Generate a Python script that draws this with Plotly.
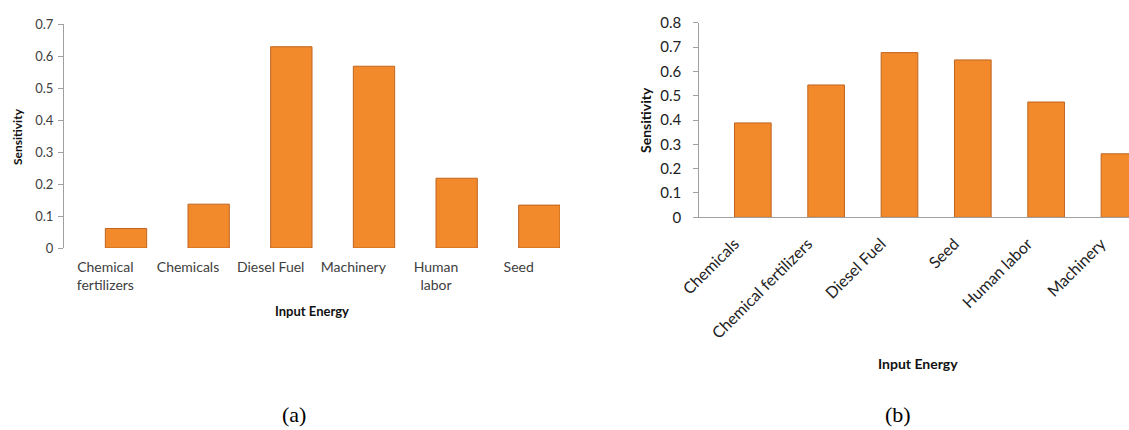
import plotly.graph_objects as go

# ---- data ----
cats_a = ["Chemical<br>fertilizers", "Chemicals", "Diesel Fuel", "Machinery", "Human<br>labor", "Seed"]
vals_a = [0.061, 0.137, 0.629, 0.568, 0.218, 0.134]
yticks_a = [0, 0.1, 0.2, 0.3, 0.4, 0.5, 0.6, 0.7]
yticktext_a = ["0", "0.1", "0.2", "0.3", "0.4", "0.5", "0.6", "0.7"]

cats_b = ["Chemicals", "Chemical fertilizers", "Diesel Fuel", "Seed", "Human labor", "Machinery"]
vals_b = [0.388, 0.544, 0.677, 0.647, 0.474, 0.261]
yticks_b = [0, 0.1, 0.2, 0.3, 0.4, 0.5, 0.6, 0.7, 0.8]
yticktext_b = ["0", "0.1", "0.2", "0.3", "0.4", "0.5", "0.6", "0.7", "0.8"]

W, H = 1129, 430
FONT = "Lato"
BAR_FILL = "#F28A2C"
BAR_EDGE = "#BF6520"
AXIS_GRAY = "#A0A0A0"

def px_x(x):
    return x / W

def px_y(y):
    return 1 - y / H

fig = go.Figure()

fig.add_trace(go.Bar(
    x=cats_a, y=vals_a, width=0.5, offset=0,
    marker=dict(color=BAR_FILL, line=dict(color=BAR_EDGE, width=1)),
    xaxis="x", yaxis="y", showlegend=False,
))
fig.add_trace(go.Bar(
    x=cats_b, y=vals_b, width=0.5, offset=0,
    marker=dict(color=BAR_FILL, line=dict(color=BAR_EDGE, width=1)),
    xaxis="x2", yaxis="y2", showlegend=False,
))

fig.update_layout(
    width=W, height=H,
    margin=dict(l=0, r=0, t=0, b=0, autoexpand=False),
    paper_bgcolor="white", plot_bgcolor="white",
    font=dict(family=FONT, color="#333333"),
    xaxis=dict(
        domain=[px_x(64), px_x(560)], anchor="y", automargin=False,
        type="category", range=[-0.5, 5.5],
        showline=False, showgrid=False, zeroline=False, ticks="",
        tickfont=dict(size=14, color="#404040"),
        tickangle=0, ticklabelstandoff=9,
    ),
    yaxis=dict(
        domain=[px_y(248), px_y(24)], anchor="x", automargin=False,
        range=[0, 0.7], tickvals=yticks_a, ticktext=yticktext_a,
        showline=True, linecolor=AXIS_GRAY, linewidth=1,
        ticks="outside", ticklen=5, tickcolor=AXIS_GRAY,
        showgrid=False, zeroline=False, ticklabelstandoff=2,
        tickfont=dict(size=13, color="#404040"),
    ),
    xaxis2=dict(
        domain=[px_x(699.3), 1.0], anchor="y2", automargin=False,
        type="category", range=[-0.48, 5.38],
        showline=True, linecolor=AXIS_GRAY, linewidth=1,
        showgrid=False, zeroline=False, ticks="",
        tickfont=dict(size=16, color="#222222"),
        tickangle=-45, ticklabelstandoff=10,
    ),
    yaxis2=dict(
        domain=[px_y(217.3), px_y(22.7)], anchor="x2", automargin=False,
        range=[0, 0.8], tickvals=yticks_b, ticktext=yticktext_b,
        showline=True, linecolor=AXIS_GRAY, linewidth=1,
        ticks="outside", ticklen=5, tickcolor=AXIS_GRAY,
        showgrid=False, zeroline=False, ticklabelstandoff=9,
        tickfont=dict(size=15, color="#222222"),
    ),
    annotations=[
        dict(text="<b>Sensitivity</b>", x=px_x(17), y=px_y(137), xref="paper", yref="paper",
             textangle=-90, showarrow=False, font=dict(size=12, color="#111111", family=FONT),
             xanchor="center", yanchor="middle"),
        dict(text="<b>Input Energy</b>", x=px_x(312), y=px_y(311), xref="paper", yref="paper",
             showarrow=False, font=dict(size=13, color="#111111", family=FONT),
             xanchor="center", yanchor="middle"),
        dict(text="<b>Sensitivity</b>", x=px_x(645), y=px_y(120), xref="paper", yref="paper",
             textangle=-90, showarrow=False, font=dict(size=14, color="#111111", family=FONT),
             xanchor="center", yanchor="middle"),
        dict(text="<b>Input Energy</b>", x=px_x(918), y=px_y(363), xref="paper", yref="paper",
             showarrow=False, font=dict(size=14, color="#111111", family=FONT),
             xanchor="center", yanchor="middle"),
        dict(text="(a)", x=px_x(294), y=px_y(414), xref="paper", yref="paper",
             showarrow=False, font=dict(size=22, color="#000000", family="Liberation Serif"),
             xanchor="center", yanchor="middle"),
        dict(text="(b)", x=px_x(898), y=px_y(414), xref="paper", yref="paper",
             showarrow=False, font=dict(size=22, color="#000000", family="Liberation Serif"),
             xanchor="center", yanchor="middle"),
    ],
)

fig.write_html("out.html", config={"displayModeBar": False},
               post_script="document.body.style.margin='0';document.body.style.overflow='hidden';")
